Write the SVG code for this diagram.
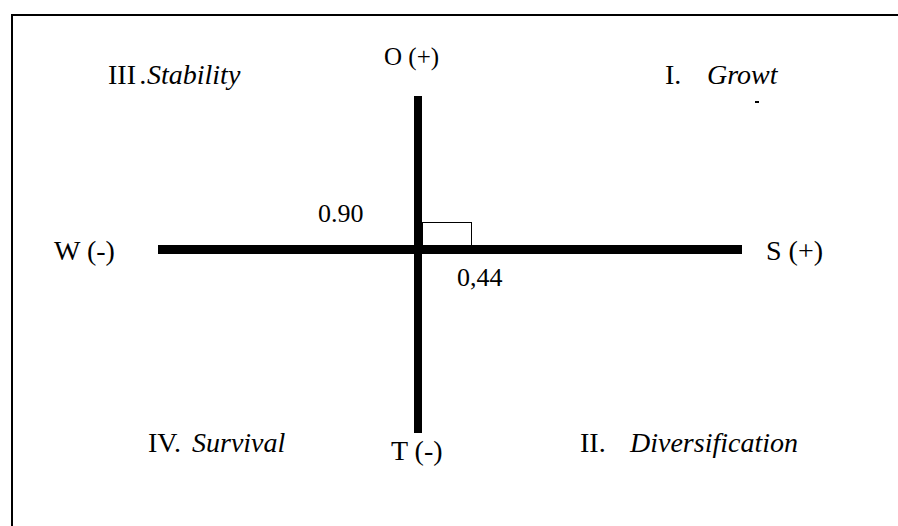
<svg xmlns="http://www.w3.org/2000/svg" width="898" height="526" viewBox="0 0 898 526">
<style>
text{font-family:"Liberation Serif","Times New Roman",serif;font-size:28px;fill:#000}
.i{font-style:italic}
.n{font-size:26px}
</style>
<rect width="898" height="526" fill="#fff"/>
<rect x="12" y="15" width="900" height="520" fill="none" stroke="#000" stroke-width="2"/>
<g id="axes">
<rect x="414" y="96" width="8" height="337" fill="#000"/>
<rect x="158" y="245" width="584" height="9" fill="#000"/>
<rect x="422.5" y="222.5" width="49" height="23" fill="none" stroke="#000" stroke-width="1"/>
<rect x="755" y="101" width="4" height="2" fill="#000"/>
</g>
<g id="labels">
<text x="384" y="65" style="font-size:25px">O (+)</text>
<text x="108" y="84">III</text>
<text x="140" y="84" class="i">.Stability</text>
<text x="665" y="84">I.</text>
<text x="707" y="84" class="i">Growt</text>
<text x="318" y="222" class="n">0.90</text>
<text x="457" y="286" class="n">0,44</text>
<text x="54" y="260">W (-)</text>
<text x="766" y="260">S (+)</text>
<text x="148" y="452">IV.</text>
<text x="192" y="452" class="i">Survival</text>
<text x="391" y="460">T (-)</text>
<text x="580" y="452">II.</text>
<text x="630" y="452" class="i">Diversification</text>
</g>
</svg>
